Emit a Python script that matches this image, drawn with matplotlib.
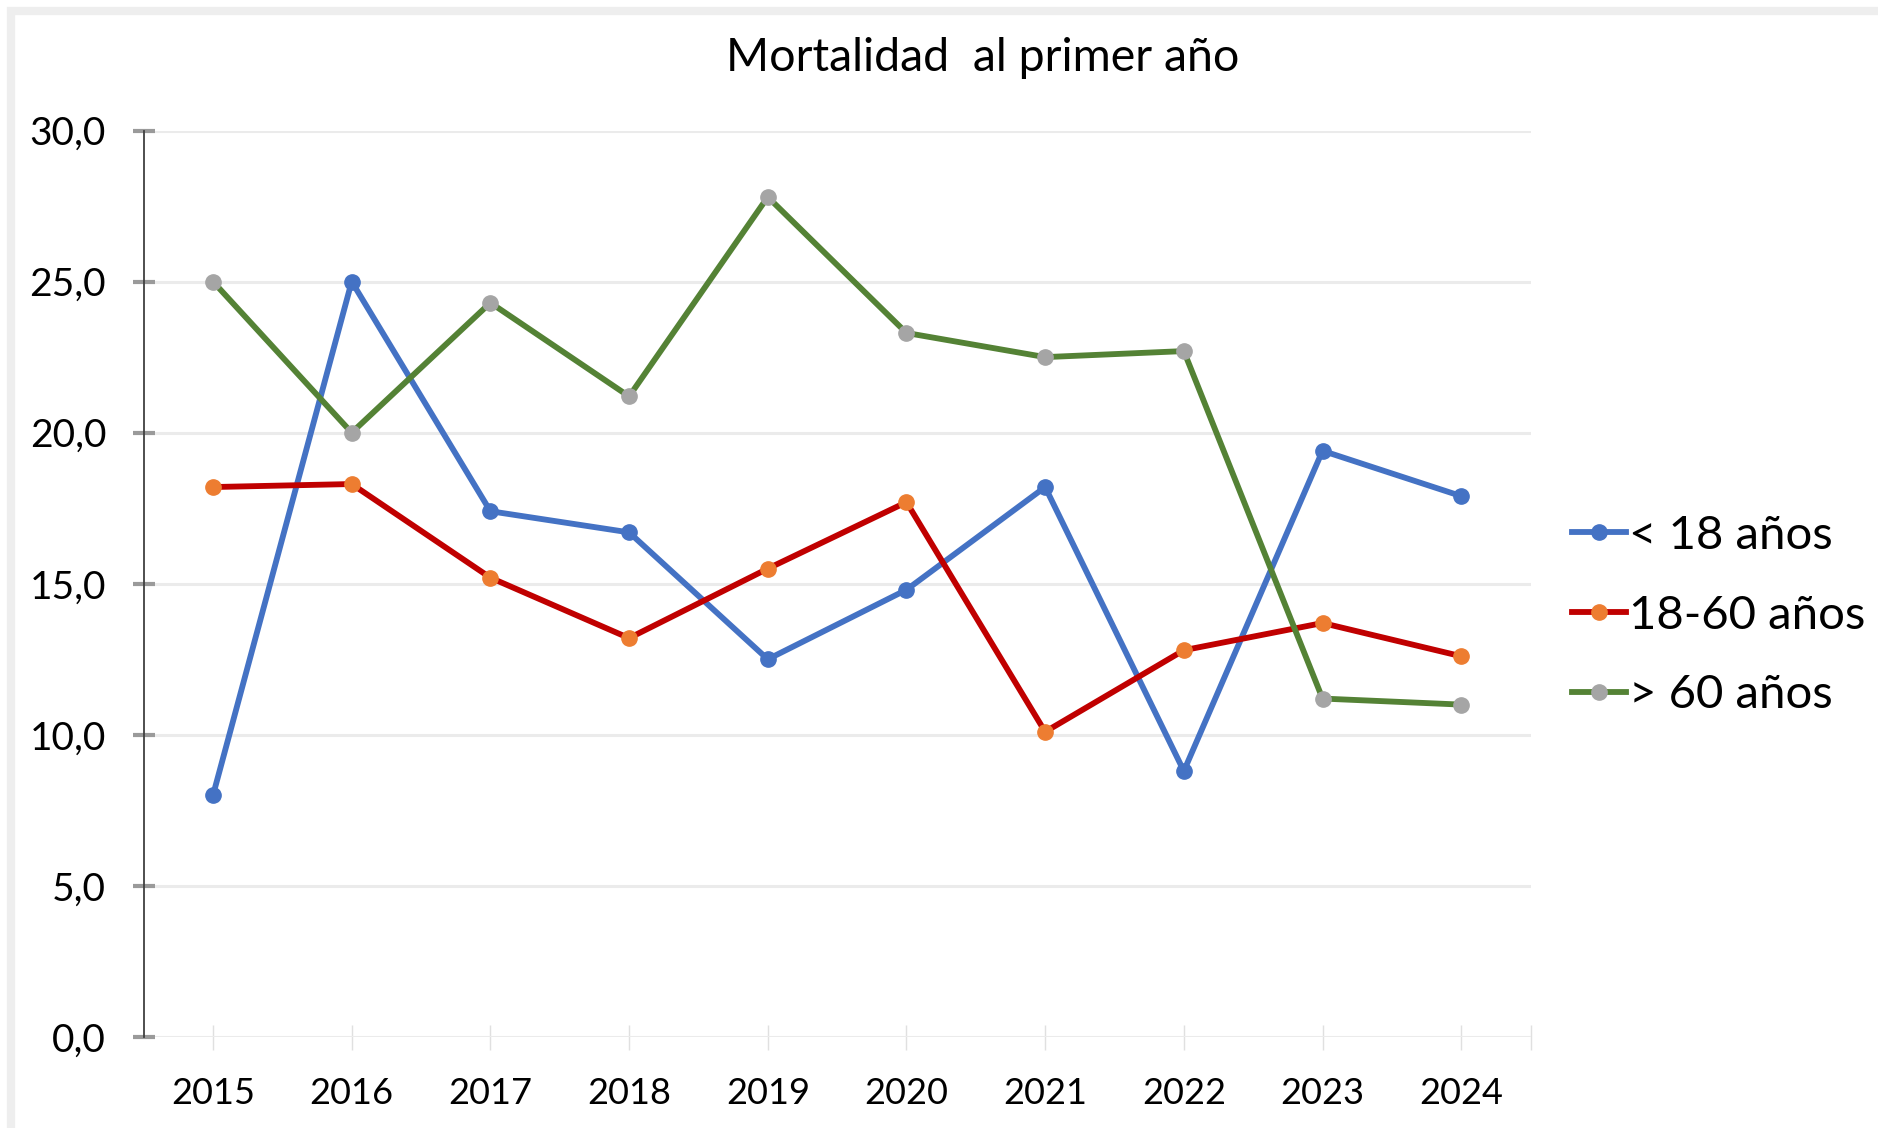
import matplotlib.pyplot as plt
from matplotlib.patches import Rectangle
from matplotlib.ticker import FuncFormatter

years = ['2015', '2016', '2017', '2018', '2019', '2020', '2021', '2022', '2023', '2024']
menores_18 = [8.0, 25.0, 17.4, 16.7, 12.5, 14.8, 18.2, 8.8, 19.4, 17.9]
entre_18_60 = [18.2, 18.3, 15.2, 13.2, 15.5, 17.7, 10.1, 12.8, 13.7, 12.6]
mayores_60 = [25.0, 20.0, 24.3, 21.2, 27.8, 23.3, 22.5, 22.7, 11.2, 11.0]
labels = ['< 18 años', '18-60 años', '> 60 años']

plt.rcParams['font.family'] = ['Lato', 'DejaVu Sans']

fig = plt.figure(figsize=(18.78, 11.28), dpi=100)
ax = fig.add_axes([0.0765, 0.0807, 0.7385, 0.8036])

r = list(range(len(years)))
# line colour and marker colour differ, like the original excel chart
series = [
    (menores_18, '#4472C4', '#4472C4'),
    (entre_18_60, '#C00000', '#ED7D31'),
    (mayores_60, '#548235', '#A5A5A5'),
]
for (vals, lc, mc), lab in zip(series, labels):
    ax.plot(r, vals, color=lc, linewidth=4.2, marker='o', markersize=11,
            markerfacecolor=mc, markeredgecolor=mc, label=lab)

ax.set_xlim(-0.5, 9.5)
ax.set_ylim(0, 30)
ax.set_yticks([0, 5, 10, 15, 20, 25, 30])
ax.yaxis.set_major_formatter(FuncFormatter(lambda v, p: f'{v:.1f}'.replace('.', ',')))
ax.set_xticks(r)
ax.set_xticklabels(years)
ax.set_xticks([9.5], minor=True)

ax.grid(axis='y', color='#EBEBEB', linewidth=2.2)
ax.set_axisbelow(True)
for s in ['top', 'right', 'bottom']:
    ax.spines[s].set_visible(False)
ax.spines['left'].set_color('#404040')
ax.spines['left'].set_linewidth(1.3)

ax.tick_params(axis='y', direction='inout', length=16, width=3, color='#9A9A9A',
               labelsize=28, pad=19)
ax.tick_params(axis='x', which='both', direction='inout', length=18, width=1,
               color='#E0E0E0', labelsize=26, pad=20)

fig.text(0.523, 0.949, 'Mortalidad  al primer año', ha='center', va='center', fontsize=33.5)

fig.legend(loc='center left', bbox_to_anchor=(0.837, 0.4542), frameon=False,
           fontsize=34, handlelength=1.15, handletextpad=0.05, labelspacing=0.8,
           borderpad=0, borderaxespad=0)

fig.patches.append(Rectangle((0.006, -0.01), 1.2, 1.0, transform=fig.transFigure,
                             fill=False, edgecolor='#EEEEEE', linewidth=6))

fig.savefig('out.png', dpi=100)
